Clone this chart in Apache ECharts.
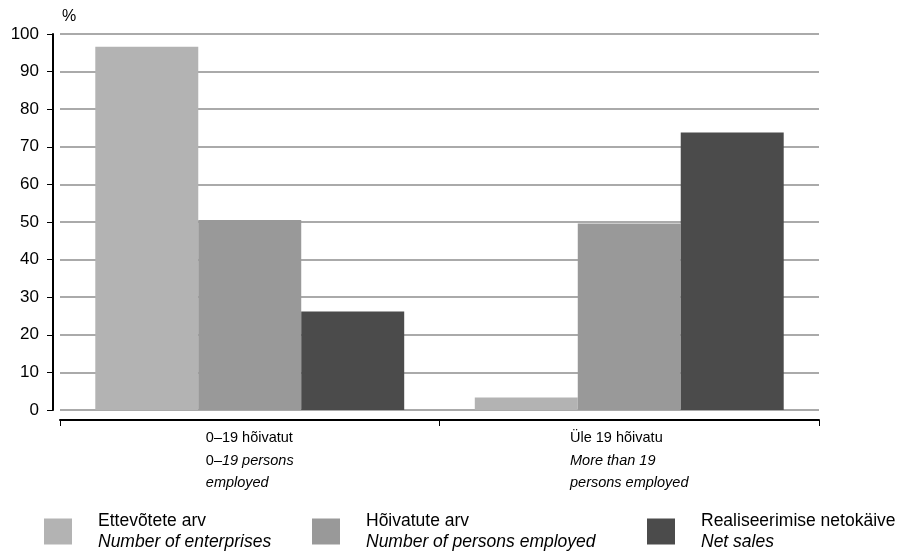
<!DOCTYPE html>
<html>
<head>
<meta charset="utf-8">
<script src="https://cdn.jsdelivr.net/npm/echarts@6/dist/echarts.min.js"></script>
<style>html,body{margin:0;padding:0;background:#fff}#c{width:904px;height:556px}</style>
</head>
<body>
<div id="c"></div>
<script>
const categories = ['0–19 hõivatut', 'Üle 19 hõivatu'];
const categoryRich = [
  '{n|0–19 hõivatut}\n{n|0–}{i|19 persons}\n{i|employed}',
  '{n|Üle 19 hõivatu}\n{i|More than 19}\n{i|persons employed}'
];
const seriesNames = ['Ettevõtete arv', 'Hõivatute arv', 'Realiseerimise netokäive'];
const seriesNamesEn = ['Number of enterprises', 'Number of persons employed', 'Net sales'];
const enterprises = [96.6, 3.3];
const employed = [50.5, 49.6];
const netSales = [26.2, 73.8];
const yTicks = [0, 10, 20, 30, 40, 50, 60, 70, 80, 90, 100];

const colors = ['#b3b3b3', '#999999', '#4b4b4b'];
const font = '"Liberation Sans", Arial, sans-serif';
const values = [enterprises, employed, netSales];
const legendLeft = [44, 312, 647];

const chart = echarts.init(document.getElementById('c'), null, {renderer: 'canvas'});
chart.setOption({
  animation: false,
  textStyle: {fontFamily: font},
  grid: {left: 60, right: 85, top: 34, bottom: 146, containLabel: false},
  legend: seriesNames.map((n, i) => ({
    data: [n],
    left: legendLeft[i],
    top: 512,
    padding: 0,
    itemWidth: 28,
    itemHeight: 26,
    icon: 'rect',
    selectedMode: false,
    formatter: () => '{a|' + seriesNames[i] + '}\n{b|' + seriesNamesEn[i] + '}',
    textStyle: {
      padding: [0, 0, 0, 21],
      rich: {
        a: {fontSize: 17.5, lineHeight: 21, color: '#000', fontFamily: font},
        b: {fontSize: 17.5, lineHeight: 21, color: '#000', fontStyle: 'italic', fontFamily: font}
      }
    }
  })),
  xAxis: {
    type: 'category',
    data: categories,
    offset: 10,
    axisLine: {onZero: false, lineStyle: {color: '#000', width: 2}},
    axisTick: {show: true, inside: false, length: 6, lineStyle: {color: '#000', width: 1}},
    axisLabel: {
      margin: 7,
      align: 'center',
      interval: 0,
      formatter: (v) => categoryRich[categories.indexOf(v)],
      rich: {
        n: {fontSize: 14.5, lineHeight: 22.5, color: '#000', align: 'left', fontFamily: font},
        i: {fontSize: 14.5, lineHeight: 22.5, color: '#000', align: 'left', fontStyle: 'italic', fontFamily: font}
      }
    },
    splitLine: {show: false}
  },
  yAxis: {
    type: 'value',
    position: 'left',
    min: yTicks[0],
    max: yTicks[yTicks.length - 1],
    interval: 10,
    offset: 7,
    name: '%',
    nameLocation: 'end',
    nameGap: 9,
    nameTextStyle: {align: 'left', padding: [0, 0, 0, 9], fontSize: 16, color: '#000', fontFamily: font},
    axisLine: {show: true, onZero: false, lineStyle: {color: '#000', width: 2}},
    axisTick: {show: true, inside: false, length: 6, lineStyle: {color: '#000', width: 1}},
    axisLabel: {margin: 14, fontSize: 17, color: '#000', fontFamily: font},
    splitLine: {show: true, lineStyle: {color: '#8e8e8e', width: 1.5}}
  },
  series: seriesNames.map((n, i) => ({
    name: n,
    type: 'bar',
    data: values[i],
    barGap: '0%',
    barCategoryGap: '18.6%',
    itemStyle: {color: colors[i]}
  }))
});
</script>
</body>
</html>
